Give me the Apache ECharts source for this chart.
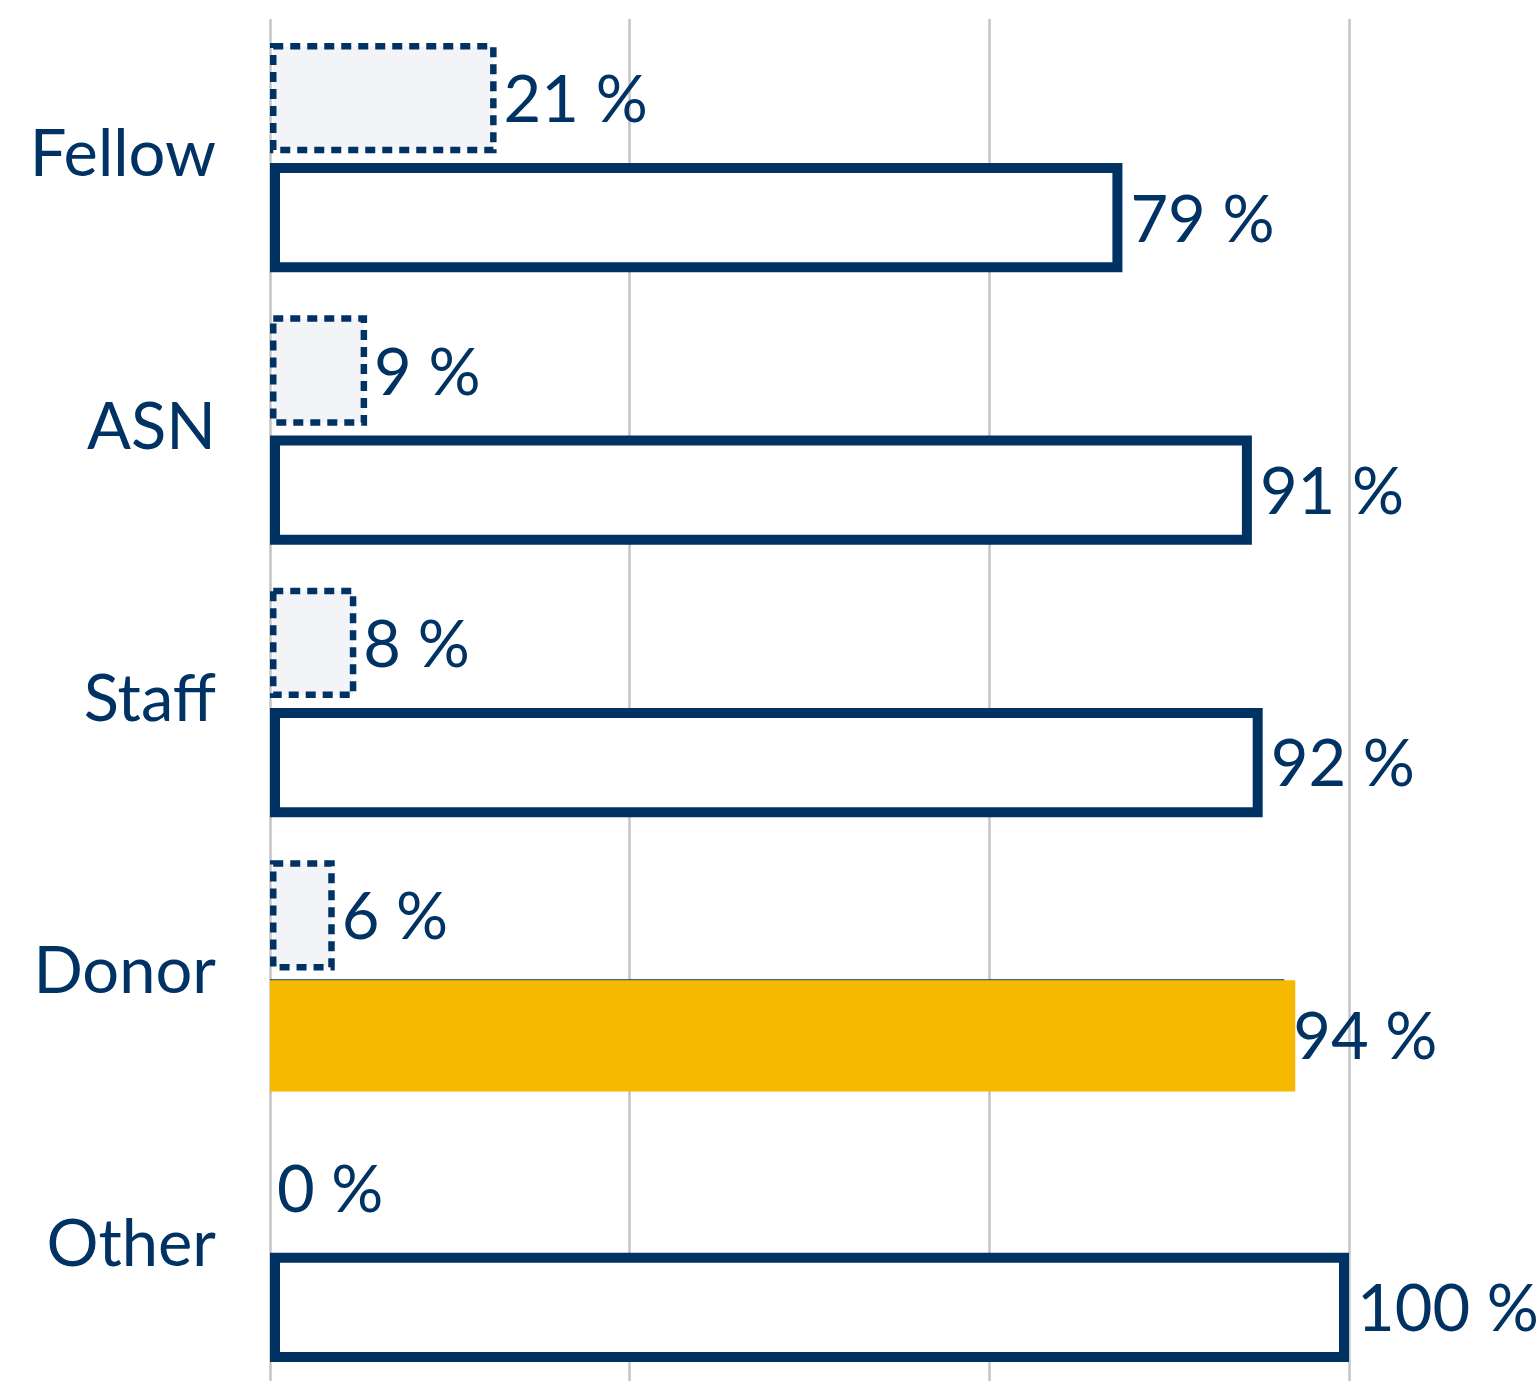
<!DOCTYPE html>
<html>
<head>
<meta charset="utf-8">
<script src="https://cdn.jsdelivr.net/npm/echarts@6/dist/echarts.min.js"></script>
<style>
  html, body { margin: 0; padding: 0; background: #ffffff; }
  #chart { width: 1538px; height: 1381px; }
</style>
</head>
<body>
<div id="chart"></div>
<script>
// Groups and the two shares per group (percent)
const categories = ['Fellow', 'ASN', 'Staff', 'Donor', 'Other'];
const lowShare = [21, 9, 8, 6, 0];
const highShare = [79, 91, 92, 94, 100];
const highlighted = 'Donor';

const NAVY = '#003263';
const YELLOW = '#F5B900';
const PALE = '#F3F4F8';
const FONT = 'Lato, "Noto Sans", sans-serif';
const FONT_SIZE = 65;

function labelEl(text, x, y) {
  return {
    type: 'text',
    z2: 10,
    style: {
      text: text,
      x: x,
      y: y,
      fill: NAVY,
      fontSize: FONT_SIZE,
      fontFamily: FONT,
      align: 'left',
      verticalAlign: 'middle'
    }
  };
}

// Dashed, pale-filled bar in the upper half of each band
function renderLow(params, api) {
  const v = api.value(0);
  const idx = api.value(1);
  const start = api.coord([0, idx]);
  const end = api.coord([v, idx]);
  const band = api.size([0, 1])[1];
  const top = start[1] - band * 0.412;
  const bottom = start[1] - band * 0.007;
  const lw = 6.5;
  const children = [];
  if (v > 0) {
    children.push({
      type: 'rect',
      shape: { x: start[0] + lw / 2, y: top + lw / 2, width: end[0] - start[0] - lw, height: bottom - top - lw },
      style: { fill: PALE, stroke: NAVY, lineWidth: lw, lineDash: [10, 7] }
    });
  }
  children.push(labelEl(v + ' %', end[0] + 7, (top + bottom) / 2 + 3));
  return { type: 'group', children: children };
}

// Outlined bar in the lower half of each band; highlighted group gets a yellow fill
function renderHigh(params, api) {
  const v = api.value(0);
  const idx = api.value(1);
  const start = api.coord([0, idx]);
  const end = api.coord([v, idx]);
  const band = api.size([0, 1])[1];
  const top = start[1] + band * 0.029;
  const bottom = start[1] + band * 0.43;
  const lw = 10;
  const children = [];
  if (categories[idx] === highlighted) {
    children.push({
      type: 'rect',
      shape: { x: start[0], y: top - 1, width: end[0] - start[0], height: 1.5 },
      style: { fill: NAVY }
    });
    children.push({
      type: 'rect',
      shape: { x: start[0], y: top, width: end[0] - start[0] + 11, height: bottom - top + 2 },
      style: { fill: YELLOW }
    });
    children.push(labelEl(v + ' %', end[0] + 9, (top + bottom) / 2 + 3));
  } else {
    children.push({
      type: 'rect',
      shape: { x: start[0] + lw / 2, y: top + lw / 2, width: end[0] - start[0] - lw, height: bottom - top - lw },
      style: { fill: '#ffffff', stroke: NAVY, lineWidth: lw }
    });
    children.push(labelEl(v + ' %', end[0] + 8, (top + bottom) / 2 + 3));
  }
  return { type: 'group', children: children };
}

const chart = echarts.init(document.getElementById('chart'), null, { renderer: 'canvas' });
chart.setOption({
  animation: false,
  backgroundColor: '#ffffff',
  grid: { left: 270, right: 189, top: 19, height: 1372, containLabel: false },
  xAxis: {
    type: 'value',
    min: 0,
    max: 100,
    interval: 100 / 3,
    axisLine: { show: false },
    axisTick: { show: false },
    axisLabel: { show: false },
    splitLine: { show: true, lineStyle: { color: '#C4C4C4', width: 2.5 } }
  },
  yAxis: {
    type: 'category',
    data: categories,
    inverse: true,
    axisLine: { show: false },
    axisTick: { show: false },
    splitLine: { show: false },
    axisLabel: {
      color: NAVY,
      fontSize: FONT_SIZE,
      fontFamily: FONT,
      margin: 54,
      padding: [6, 0, 0, 0]
    }
  },
  series: [
    {
      type: 'custom',
      name: 'low',
      renderItem: renderLow,
      encode: { x: 0, y: 1 },
      clip: false,
      data: lowShare.map((v, i) => [v, i])
    },
    {
      type: 'custom',
      name: 'high',
      renderItem: renderHigh,
      encode: { x: 0, y: 1 },
      clip: false,
      data: highShare.map((v, i) => [v, i])
    }
  ]
});
</script>
</body>
</html>
